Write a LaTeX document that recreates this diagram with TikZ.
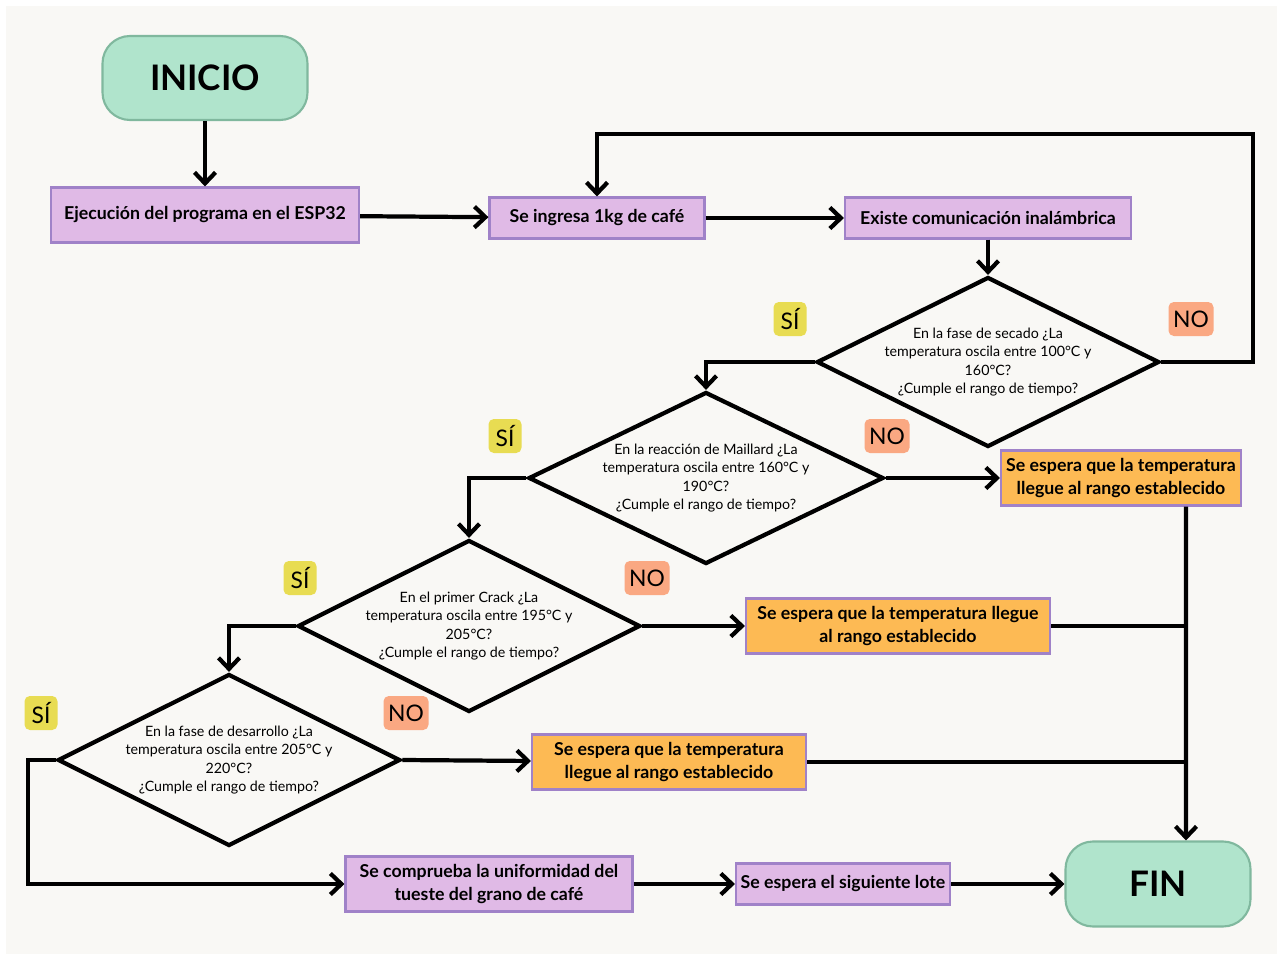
\documentclass[tikz,border=0pt]{standalone}
\usepackage{fontspec}
\setmainfont{Lato}
\usetikzlibrary{arrows.meta, positioning, shapes.geometric}

\definecolor{fondo}{RGB}{249,248,245}
\definecolor{menta}{RGB}{176,228,204}
\definecolor{mentaborde}{RGB}{128,184,158}
\definecolor{lila}{RGB}{224,186,230}
\definecolor{lilaborde}{RGB}{160,130,200}
\definecolor{naranja}{RGB}{253,186,84}
\definecolor{amarillo}{RGB}{232,220,82}
\definecolor{salmon}{RGB}{250,168,130}

\tikzset{
  flecha/.style={line width=2.4pt, -{Straight Barb[length=2.2mm,width=4.2mm,line width=2.4pt]}},
  linea/.style={line width=2.4pt},
  terminal/.style={rectangle, rounded corners=0.55cm, draw=mentaborde, line width=1.2pt,
    fill=menta, minimum width=4.1cm, minimum height=1.68cm, font=\fontsize{20}{24}\selectfont\bfseries},
  proceso/.style={rectangle, draw=lilaborde, line width=1.2pt, fill=lila, inner sep=0pt,
    minimum height=1.1cm, align=center, font=\fontsize{10.1}{13}\selectfont\bfseries},
  espera/.style={proceso, fill=naranja},
  decision/.style={diamond, draw, line width=2.4pt, fill=fondo, inner sep=0pt,
    minimum width=6.85cm, minimum height=3.4cm},
  dtexto/.style={align=center, font=\fontsize{8.1}{10.4}\selectfont},
  si/.style={rectangle, rounded corners=3pt, fill=amarillo, minimum width=0.66cm,
    minimum height=0.68cm, inner sep=0pt, font=\fontsize{13}{13}\selectfont},
  no/.style={si, fill=salmon, minimum width=0.9cm}
}

\begin{document}
\begin{tikzpicture}[node distance=2cm, on grid]
  \useasboundingbox (0,0) rectangle (25.66,-19.2);
  \fill[white] (0,0) rectangle (25.66,-19.2);
  \fill[fondo] (0.12,-0.12) rectangle (25.54,-19.08);

  % inicio y entrada
  \node[terminal] (inicio) at (4.10,-1.56) {INICIO};
  \node[proceso, minimum width=6.16cm] (ejec) [below=2.74cm of inicio] {Ejecución del programa en el ESP32};
  \node[proceso, minimum width=4.30cm, minimum height=0.82cm] (ingresa) at (11.94,-4.36) {Se ingresa 1kg de café};
  \node[proceso, minimum width=5.72cm, minimum height=0.82cm] (existe) [right=7.82cm of ingresa] {Existe comunicación inalámbrica};

  % decisiones
  \node[decision] (d1) [below=2.88cm of existe] {};
  \node[dtexto] (t1) at (d1) {En la fase de secado ¿La\\ temperatura oscila entre 100°C y\\ 160°C?\\ ¿Cumple el rango de tiempo?};
  \node[decision, minimum width=7.1cm, minimum height=3.44cm] (d2) at (14.12,-9.56) {};
  \node[dtexto] (t2) at (d2) {En la reacción de Maillard ¿La\\ temperatura oscila entre 160°C y\\ 190°C?\\ ¿Cumple el rango de tiempo?};
  \node[decision, minimum height=3.44cm] (d3) at (9.38,-12.52) {};
  \node[dtexto] (t3) at (d3) {En el primer Crack ¿La\\ temperatura oscila entre 195°C y\\ 205°C?\\ ¿Cumple el rango de tiempo?};
  \node[decision, minimum height=3.44cm] (d4) at (4.58,-15.20) {};
  \node[dtexto] (t4) at (d4) {En la fase de desarrollo ¿La\\ temperatura oscila entre 205°C y\\ 220°C?\\ ¿Cumple el rango de tiempo?};

  % esperas
  \node[espera, minimum width=4.80cm] (esp1) [right=8.30cm of d2] {Se espera que la temperatura\\ llegue al rango establecido};
  \node[espera, minimum width=6.08cm] (esp2) [right=8.58cm of d3] {Se espera que la temperatura llegue\\ al rango establecido};
  \node[espera, minimum width=5.48cm] (esp3) at (13.38,-15.24) {Se espera que la temperatura\\ llegue al rango establecido};

  % salida
  \node[proceso, minimum width=5.74cm] (comprueba) at (9.78,-17.68) {Se comprueba la uniformidad del\\ tueste del grano de café};
  \node[proceso, minimum width=4.28cm, minimum height=0.82cm] (lote) [right=7.08cm of comprueba] {Se espera el siguiente lote};
  \node[terminal, minimum width=3.70cm, minimum height=1.70cm] (fin) [right=6.30cm of lote] {FIN};

  % etiquetas
  \node[si] (si1) at (15.80,-6.38) {SÍ};
  \node[no] (no1) at (23.82,-6.38) {NO};
  \node[si] (si2) at (10.10,-8.72) {SÍ};
  \node[no] (no2) at (17.74,-8.72) {NO};
  \node[si] (si3) at (6.00,-11.56) {SÍ};
  \node[no] (no3) at (12.94,-11.56) {NO};
  \node[si] (si4) at (0.82,-14.26) {SÍ};
  \node[no] (no4) at (8.12,-14.26) {NO};

  \coordinate (retorno) at (25.06,-2.68);
  \coordinate (esquina) at (0.56,-15.20);

  \path[flecha]
    (inicio) edge (ejec)
    (ejec) edge (ingresa)
    (ingresa) edge (existe)
    (existe) edge (d1)
    (d2.east) edge (esp1)
    (d3.east) edge (esp2)
    (d4.east) edge (esp3)
    (comprueba) edge (lote)
    (lote) edge (fin);
  \draw[flecha] (d1.east) -| (retorno) -| (ingresa.north);
  \draw[flecha] (d1.west) -| (d2.north);
  \draw[flecha] (d2.west) -| (d3.north);
  \draw[flecha] (d3.west) -| (d4.north);
  \draw[flecha] (d4.west) -- (esquina) |- (comprueba.west);
  \draw[flecha] ([xshift=1.30cm]esp1.south) -- ([xshift=0.56cm]fin.north);
  \draw[linea] (esp2.east) -- ([xshift=0.56cm]fin.north |- esp2.east);
  \draw[linea] (esp3.east) -- ([xshift=0.56cm]fin.north |- esp3.east);
\end{tikzpicture}
\end{document}
